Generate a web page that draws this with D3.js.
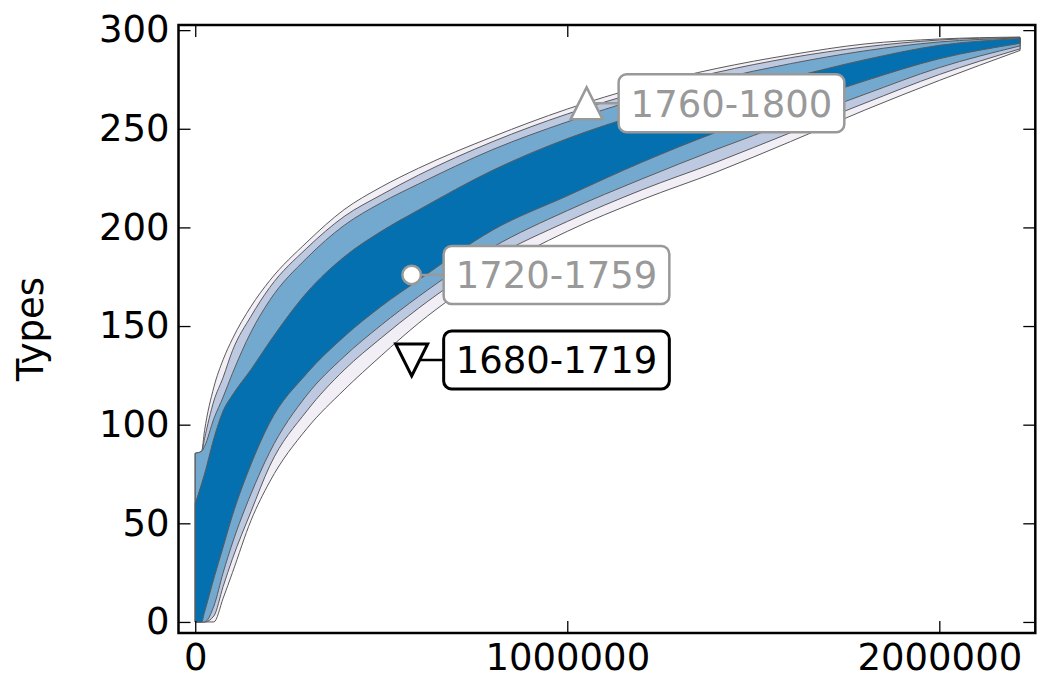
<!DOCTYPE html>
<html>
<head>
<meta charset="utf-8">
<script src="https://cdn.jsdelivr.net/npm/d3@7"></script>
<style>
  body { margin: 0; background: #fff; }
  svg { font-family: "DejaVu Sans", sans-serif; }
</style>
</head>
<body>
<div id="root"></div>
<script>
const WIDTH = 1040;
const HEIGHT = 680;
const PLOT = {left: 178.5, top: 25, right: 1035.3, bottom: 633};
const FONT_SIZE = 37;

// sample sizes (tokens) and percentile curves of types
const tokens = [0, 17000, 25000, 50000, 75000, 100000, 150000, 200000, 300000, 400000,
    500000, 600000, 800000, 1000000, 1200000, 1400000, 1600000, 1800000, 2000000, 2217000];
const upper0 = [85.5, 86.5, 97, 119, 133, 143.5, 160, 173, 192.5, 209, 220.5, 230, 246, 260, 271.5, 280.5, 287.5, 293, 295.5, 296.5];
const upper1 = [85.5, 86, 93, 112, 124, 137.5, 155, 169.5, 189.5, 205.5, 216.5, 226.5, 243.5, 257.5, 269, 278.5, 286, 291.5, 295, 296.3];
const upper2 = [85.5, 86.5, 89, 103, 114, 126, 147, 163, 184.5, 201, 212.5, 222, 239.5, 253.5, 265.5, 275, 283, 289.5, 294, 296];
const upper3 = [60, 70, 75, 93, 107, 115, 128, 142, 167, 185, 198, 208.8, 229, 245, 257.5, 267.5, 276, 285, 292.3, 295.7];
const lower3 = [0, 0, 5, 22, 38, 54, 80, 101, 126, 144.6, 160, 173.3, 198.7, 216, 233, 248.2, 261.5, 274.3, 285.5, 293.3];
const lower2 = [0, 0, 0, 8, 25, 40, 65, 86, 115, 134.5, 150.5, 164.9, 190, 208.5, 224.5, 239.5, 253.5, 267.5, 281, 292];
const lower1 = [0, 0, 0, 3, 18, 32, 56, 79, 107, 127.7, 144, 159, 184.5, 203, 219, 233, 248, 263, 277.5, 290.5];
const lower0 = [0, 0, 0, 0, 12, 25, 51.5, 71, 98, 117.6, 135, 151.4, 178, 198, 214, 228, 243.5, 259.5, 274.5, 289.7];

// labelled periods
const periods = ["1680-1719", "1720-1759", "1760-1800"];
const periodTokens = [581700, 581700, 1052000];
const periodTypes = [132.8, 175.9, 262.9];

const xTicks = [0, 1000000, 2000000];
const yTicks = [0, 50, 100, 150, 200, 250, 300];

const bandColors = ["#f1eef6", "#bdc9e1", "#74a9cf", "#0570b0"];
const periodColors = ["#000000", "#999999", "#999999"];
const periodShapes = ["down", "circle", "up"];

const xScale = d3.scaleLinear()
    .domain([-45000, 2258000])
    .range([PLOT.left, PLOT.right]);

const yScale = d3.scaleLinear()
    .domain([-5.6, 302.6])
    .range([PLOT.bottom, PLOT.top]);

const svg = d3.select("#root")
    .append("svg")
    .attr("width", WIDTH)
    .attr("height", HEIGHT);

svg.append("clipPath")
    .attr("id", "plotClip")
    .append("rect")
    .attr("x", PLOT.left)
    .attr("y", PLOT.top)
    .attr("width", PLOT.right - PLOT.left)
    .attr("height", PLOT.bottom - PLOT.top);

const bands = [[upper0, lower0], [upper1, lower1], [upper2, lower2], [upper3, lower3]];

const area = d3.area()
    .x(d => xScale(d.x))
    .y0(d => yScale(d.lo))
    .y1(d => yScale(d.hi))
    .curve(d3.curveMonotoneX);

const bandLayer = svg.append("g").attr("clip-path", "url(#plotClip)");

bandLayer.selectAll(".band")
    .data(bands)
    .enter()
    .append("path")
    .attr("class", "band")
    .attr("d", b => area(tokens.map((t, i) => ({x: t, hi: b[0][i], lo: b[1][i]}))))
    .attr("fill", (b, i) => bandColors[i])
    .attr("stroke", "#5a5a5a")
    .attr("stroke-width", 1)
    .attr("stroke-linejoin", "round");

// axes: inward ticks on all four sides
const axisLayer = svg.append("g").attr("class", "axisLayer");

const fmt = d3.format("d");

axisLayer.append("g")
    .attr("transform", `translate(0, ${PLOT.bottom})`)
    .call(d3.axisBottom(xScale).tickValues(xTicks).tickSizeInner(-12).tickSizeOuter(0).tickPadding(11).tickFormat(fmt));

axisLayer.append("g")
    .attr("transform", `translate(0, ${PLOT.top})`)
    .call(d3.axisTop(xScale).tickValues(xTicks).tickSizeInner(-12).tickSizeOuter(0).tickFormat(""));

axisLayer.append("g")
    .attr("transform", `translate(${PLOT.left}, 0)`)
    .call(d3.axisLeft(yScale).tickValues(yTicks).tickSizeInner(-12).tickSizeOuter(0).tickPadding(9).tickFormat(fmt));

axisLayer.append("g")
    .attr("transform", `translate(${PLOT.right}, 0)`)
    .call(d3.axisRight(yScale).tickValues(yTicks).tickSizeInner(-12).tickSizeOuter(0).tickFormat(""));

axisLayer.selectAll(".domain").remove();
axisLayer.selectAll(".tick line").attr("stroke", "#000").attr("stroke-width", 1.3);
axisLayer.selectAll(".tick text")
    .attr("fill", "#000")
    .style("font-size", FONT_SIZE + "px")
    .style("font-family", "'DejaVu Sans', sans-serif");

svg.append("rect")
    .attr("x", PLOT.left)
    .attr("y", PLOT.top)
    .attr("width", PLOT.right - PLOT.left)
    .attr("height", PLOT.bottom - PLOT.top)
    .attr("fill", "none")
    .attr("stroke", "#000")
    .attr("stroke-width", 2.5);

svg.append("text")
    .attr("transform", `translate(43, ${(PLOT.top + PLOT.bottom) / 2}) rotate(-90)`)
    .attr("text-anchor", "middle")
    .style("font-size", FONT_SIZE + "px")
    .text("Types");

// period markers with boxed labels
function markerPath(shape) {
    if (shape === "up") return "M0,-16L16,16L-16,16Z";
    if (shape === "down") return "M0,16L16,-16L-16,-16Z";
    return d3.symbol(d3.symbolCircle, 270)();
}

const labelLayer = svg.append("g");

periods.forEach((label, i) => {
    const cx = xScale(periodTokens[i]);
    const cy = yScale(periodTypes[i]);
    const color = periodColors[i];
    const boxLeft = cx + 32;
    const g = labelLayer.append("g");

    const box = g.append("rect");
    const txt = g.append("text")
        .attr("x", boxLeft + 12)
        .attr("y", cy + 13.5)
        .attr("fill", color)
        .style("font-size", FONT_SIZE + "px")
        .text(label);
    const w = txt.node().getComputedTextLength() + 24;

    box.attr("x", boxLeft)
        .attr("y", cy - 29)
        .attr("width", w)
        .attr("height", 58)
        .attr("rx", 8)
        .attr("fill", "#fff")
        .attr("stroke", color)
        .attr("stroke-width", i === 0 ? 3 : 2.5);

    g.append("line")
        .attr("x1", cx)
        .attr("x2", boxLeft)
        .attr("y1", cy)
        .attr("y2", cy)
        .attr("stroke", color)
        .attr("stroke-width", 2.5);

    g.append("path")
        .attr("transform", `translate(${cx}, ${cy})`)
        .attr("d", markerPath(periodShapes[i]))
        .attr("fill", "#fff")
        .attr("stroke", color)
        .attr("stroke-width", i === 0 ? 3 : 2.5)
        .attr("stroke-linejoin", "miter");
});
</script>
</body>
</html>
